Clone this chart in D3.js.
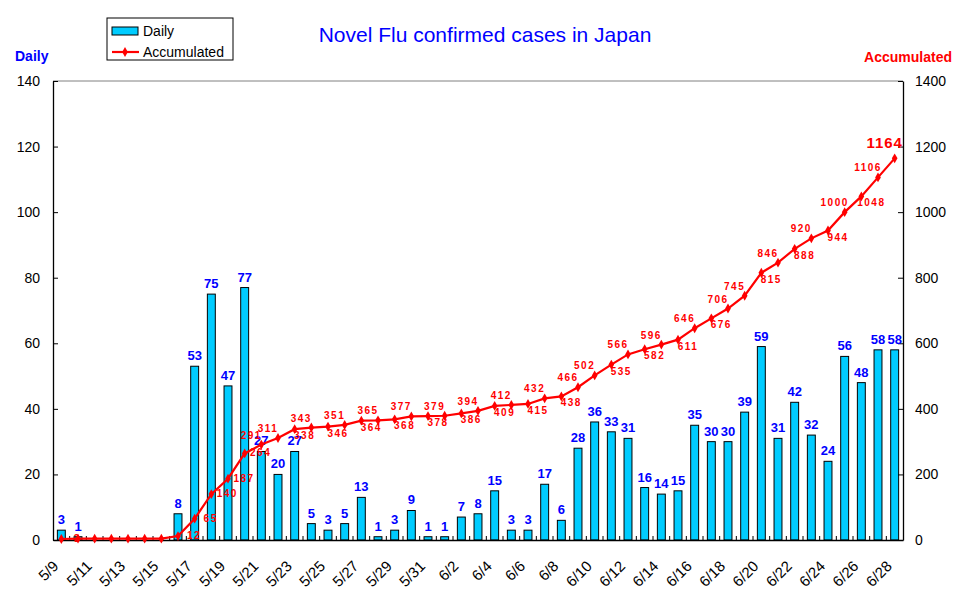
<!DOCTYPE html>
<html>
<head>
<meta charset="utf-8">
<script src="https://cdn.jsdelivr.net/npm/d3@7"></script>
<style>
  body { margin: 0; background: #fff; }
  svg { font-family: "Liberation Sans", Arial, sans-serif; }
</style>
</head>
<body>
<svg id="chart" width="970" height="604"></svg>
<script>
// DATA
const dates = ['5/9','5/10','5/11','5/12','5/13','5/14','5/15','5/16','5/17','5/18','5/19','5/20',
  '5/21','5/22','5/23','5/24','5/25','5/26','5/27','5/28','5/29','5/30','5/31',
  '6/1','6/2','6/3','6/4','6/5','6/6','6/7','6/8','6/9','6/10','6/11','6/12','6/13','6/14',
  '6/15','6/16','6/17','6/18','6/19','6/20','6/21','6/22','6/23','6/24','6/25','6/26','6/27','6/28'];

const daily = [3,1,0,0,0,0,0,8,53,75,47,77,27,20,27,5,3,5,13,1,3,9,1,1,7,8,15,3,3,17,6,
  28,36,33,31,16,14,15,35,30,30,39,59,31,42,32,24,56,48,58,58];

const accumulated = [3,4,4,4,4,4,4,12,65,140,187,264,291,311,338,343,346,351,364,365,368,377,378,379,
  386,394,409,412,415,432,438,466,502,535,566,582,596,611,646,676,706,745,815,846,888,920,944,
  1000,1048,1106,1164];

// where each accumulated label sits: r = right, a = above-left, b = below-right, '' = none
const accLabelSide = ['r','','','','','','','r','r','r','r','r','a','a','b','a','b','a','b','a','b','a','b',
  'a','b','a','b','a','b','a','b','a','a','b','a','b','a','b','a','b','a','a','b','a','b','a','b',
  'a','b','a','a'];

const leftTicks = [0,20,40,60,80,100,120,140];
const rightTicks = [0,200,400,600,800,1000,1200,1400];

//SETUP
const svg = d3.select('#chart');
const pLeft = 53, pRight = 903, pTop = 81, pBottom = 540;

const x = d3.scaleBand().domain(dates).range([pLeft, pRight]).padding(0);
const yL = d3.scaleLinear().domain([0, 140]).range([pBottom, pTop]);
const yR = d3.scaleLinear().domain([0, 1400]).range([pBottom, pTop]);
const barW = x.bandwidth() / 2.1;
const cx = (d) => x(d) + x.bandwidth() / 2;

//TITLE + AXIS NAMES
svg.append('text')
  .attr('x', 485).attr('y', 42)
  .attr('text-anchor', 'middle')
  .attr('font-size', 21)
  .attr('fill', '#0000ff')
  .text('Novel Flu confirmed cases in Japan');

svg.append('text')
  .attr('x', 15).attr('y', 61)
  .attr('font-size', 14).attr('font-weight', 'bold')
  .attr('fill', '#0000ff')
  .text('Daily');

svg.append('text')
  .attr('x', 952).attr('y', 62)
  .attr('text-anchor', 'end')
  .attr('font-size', 14).attr('font-weight', 'bold')
  .attr('fill', '#ff0000')
  .text('Accumulated');

//TOP BORDER
svg.append('line')
  .attr('x1', pLeft).attr('x2', pRight)
  .attr('y1', pTop).attr('y2', pTop)
  .attr('stroke', '#808080');

//BARS
svg.append('g').selectAll('rect')
  .data(daily)
  .join('rect')
  .attr('x', (d, i) => cx(dates[i]) - barW / 2)
  .attr('y', (d) => yL(d))
  .attr('width', barW)
  .attr('height', (d) => pBottom - yL(d))
  .attr('fill', '#00ccff')
  .attr('stroke', '#000')
  .attr('stroke-width', 1);

//AXES
const axisL = d3.axisLeft(yL).tickValues(leftTicks).tickSizeInner(-5).tickSizeOuter(0).tickPadding(13);
const gL = svg.append('g').attr('transform', `translate(${pLeft},0)`).call(axisL);

const axisR = d3.axisRight(yR).tickValues(rightTicks).tickFormat(d3.format('d'))
  .tickSizeInner(-5).tickSizeOuter(0).tickPadding(12);
const gR = svg.append('g').attr('transform', `translate(${pRight},0)`).call(axisR);

const axisX = d3.axisBottom(x).tickSize(0).tickFormat((d, i) => (i % 2 === 0 ? d : ''));
const gX = svg.append('g').attr('transform', `translate(0,${pBottom})`).call(axisX);

[gL, gR, gX].forEach((g) => {
  g.select('.domain').attr('stroke', '#000').attr('stroke-width', 1.3);
  g.selectAll('.tick line').attr('stroke', '#000');
  g.selectAll('.tick text').attr('font-size', 14).attr('fill', '#000').attr('font-family', '"Liberation Sans", Arial, sans-serif');
});

gX.selectAll('.tick text')
  .attr('font-size', 15)
  .attr('text-anchor', 'end')
  .attr('dy', 0)
  .attr('transform', 'translate(-4,25) rotate(-45)');

// category boundary ticks on the x axis
gX.append('g').selectAll('line')
  .data(dates.slice(1))
  .join('line')
  .attr('x1', (d) => x(d)).attr('x2', (d) => x(d))
  .attr('y1', 0).attr('y2', -4)
  .attr('stroke', '#000');

//DAILY LABELS
svg.append('g').selectAll('text')
  .data(daily.map((v, i) => ({ v, d: dates[i] })).filter((o) => o.v > 0))
  .join('text')
  .attr('x', (o) => cx(o.d))
  .attr('y', (o) => yL(o.v) - 6)
  .attr('text-anchor', 'middle')
  .attr('font-size', 13).attr('font-weight', 'bold')
  .attr('fill', '#0000ff')
  .text((o) => o.v);

//ACCUMULATED LINE
const line = d3.line()
  .x((d, i) => cx(dates[i]))
  .y((d) => yR(d));

svg.append('path')
  .datum(accumulated)
  .attr('d', line)
  .attr('fill', 'none')
  .attr('stroke', '#ff0000')
  .attr('stroke-width', 2.2);

const diamond = d3.symbol().type(d3.symbolDiamond).size(28);
svg.append('g').selectAll('path')
  .data(accumulated)
  .join('path')
  .attr('d', diamond)
  .attr('transform', (d, i) => `translate(${cx(dates[i])},${yR(d)})`)
  .attr('fill', '#ff0000');

//ACCUMULATED LABELS
const offs = { r: [16, 3], a: [-10, -6], b: [10, 10] };
const last = accumulated.length - 1;
svg.append('g').selectAll('text')
  .data(accumulated.map((v, i) => ({ v, i, side: accLabelSide[i] })).filter((o) => o.side))
  .join('text')
  .attr('x', (o) => cx(dates[o.i]) + (o.i === last ? -10 : offs[o.side][0]))
  .attr('y', (o) => yR(o.v) + (o.i === last ? -10 : offs[o.side][1]))
  .attr('text-anchor', 'middle')
  .attr('font-size', (o) => (o.i === last ? 15 : 10))
  .attr('letter-spacing', (o) => (o.i === last ? 1 : 1.5))
  .attr('font-weight', 'bold')
  .attr('fill', '#ff0000')
  .text((o) => o.v);

//LEGEND
const lg = svg.append('g');
lg.append('rect')
  .attr('x', 107).attr('y', 18).attr('width', 126).attr('height', 42)
  .attr('fill', '#fff').attr('stroke', '#000');
lg.append('rect')
  .attr('x', 112).attr('y', 27).attr('width', 26).attr('height', 8)
  .attr('fill', '#00ccff').attr('stroke', '#000');
lg.append('text').attr('x', 143).attr('y', 36).attr('font-size', 14).text('Daily');
lg.append('line')
  .attr('x1', 112).attr('x2', 139).attr('y1', 52).attr('y2', 52)
  .attr('stroke', '#ff0000').attr('stroke-width', 2.2);
lg.append('path').attr('d', diamond).attr('transform', 'translate(125,52)').attr('fill', '#ff0000');
lg.append('text').attr('x', 143).attr('y', 57).attr('font-size', 14).text('Accumulated');
</script>
</body>
</html>
